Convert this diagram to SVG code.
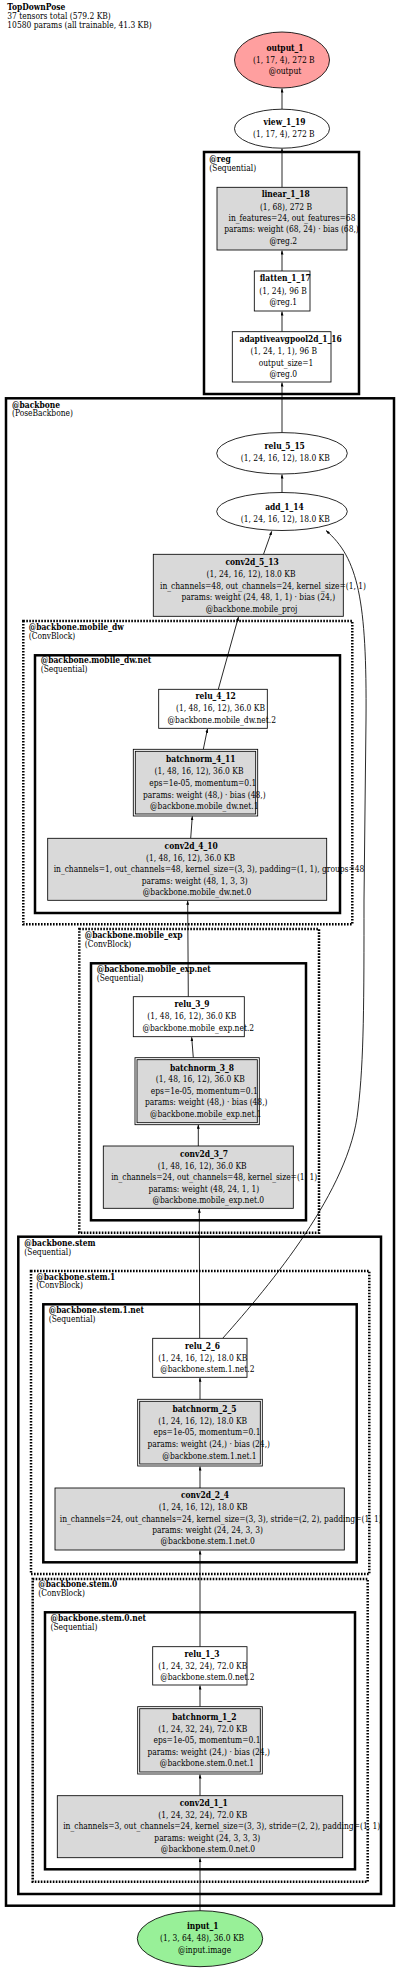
<svg xmlns="http://www.w3.org/2000/svg" width="400" height="1969" viewBox="0 0 400 1969">
<style>
text{font-family:'DejaVu Serif Condensed','DejaVu Serif',serif;font-stretch:condensed;font-size:8.4px;fill:#000;text-anchor:middle}
.b{font-weight:bold}
.l{text-anchor:start}
.clu{fill:none;stroke:#000;stroke-width:2.5}
.dot{stroke-dasharray:1.6 1.4}
.box{fill:#fff;stroke:#000;stroke-width:0.84}
.g{fill:#d9d9d9}
.e{fill:none;stroke:#000;stroke-width:0.84;marker-end:url(#ah)}
</style>
<defs>
<marker id="ah" markerUnits="userSpaceOnUse" markerWidth="4" markerHeight="3" viewBox="0 0 4 3" refX="4" refY="1.5" orient="auto"><path d="M0,0 L4,1.5 L0,3 z" fill="#000"/></marker>
</defs>
<rect width="400" height="1969" fill="#fff"/>
<g id="title">
<text class="b l" x="7.3" y="10.3">TopDownPose</text>
<text class="l" x="7.3" y="18.7">37 tensors total (579.2 KB)</text>
<text class="l" x="7.3" y="27.7">10580 params (all trainable, 41.3 KB)</text>
</g>
<g id="clusters">
<g id="cluster_reg"><rect class="clu" x="204" y="152" width="155" height="242"/><text class="b l" x="209.3" y="162.3">@reg</text><text class="l" x="209.3" y="170.5">(Sequential)</text></g>
<g id="cluster_backbone"><rect class="clu" x="6" y="398.3" width="388" height="1507.4"/><text class="b l" x="12" y="408">@backbone</text><text class="l" x="12" y="416.3">(PoseBackbone)</text></g>
<g id="cluster_mobile_dw"><rect class="clu dot" x="23.3" y="621" width="329" height="303.3"/><text class="b l" x="28.7" y="630.3">@backbone.mobile_dw</text><text class="l" x="28.7" y="639.3">(ConvBlock)</text></g>
<g id="cluster_mobile_dw_net"><rect class="clu" x="35" y="655.3" width="305" height="257.7"/><text class="b l" x="40.7" y="663">@backbone.mobile_dw.net</text><text class="l" x="40.7" y="672.3">(Sequential)</text></g>
<g id="cluster_mobile_exp"><rect class="clu dot" x="79.3" y="929" width="239.7" height="303.7"/><text class="b l" x="84.7" y="938.3">@backbone.mobile_exp</text><text class="l" x="84.7" y="946.7">(ConvBlock)</text></g>
<g id="cluster_mobile_exp_net"><rect class="clu" x="91" y="963.3" width="215" height="257"/><text class="b l" x="96.7" y="972.3">@backbone.mobile_exp.net</text><text class="l" x="96.7" y="980.7">(Sequential)</text></g>
<g id="cluster_stem"><rect class="clu" x="18.3" y="1236.7" width="362.7" height="657.3"/><text class="b l" x="24.3" y="1246.3">@backbone.stem</text><text class="l" x="24.3" y="1254.7">(Sequential)</text></g>
<g id="cluster_stem1"><rect class="clu dot" x="31" y="1271" width="338.3" height="303"/><text class="b l" x="36.3" y="1280">@backbone.stem.1</text><text class="l" x="36.3" y="1288">(ConvBlock)</text></g>
<g id="cluster_stem1_net"><rect class="clu" x="43.3" y="1304.3" width="313.4" height="258"/><text class="b l" x="48.7" y="1313.3">@backbone.stem.1.net</text><text class="l" x="48.7" y="1322">(Sequential)</text></g>
<g id="cluster_stem0"><rect class="clu dot" x="32.7" y="1579" width="335" height="302.7"/><text class="b l" x="38.3" y="1587.3">@backbone.stem.0</text><text class="l" x="38.3" y="1596.3">(ConvBlock)</text></g>
<g id="cluster_stem0_net"><rect class="clu" x="45" y="1612.3" width="310" height="257"/><text class="b l" x="50.5" y="1621.3">@backbone.stem.0.net</text><text class="l" x="50.5" y="1629.7">(Sequential)</text></g>
</g>
<g id="edges">
<path class="e" d="M282,109 L282,88.5"/>
<path class="e" d="M282,187.3 L282,148.5"/>
<path class="e" d="M282,271 L282,250.5"/>
<path class="e" d="M282,331.7 L282,311.5"/>
<path class="e" d="M282,432.6 L282,382.5"/>
<path class="e" d="M282,492.5 L282,474.5"/>
<path class="e" d="M263.5,554.3 L271.7,531.3"/>
<path class="e" d="M218.3,689.3 L238.5,616.8"/>
<path class="e" d="M203.3,749.3 L207.5,728.8"/>
<path class="e" d="M190.7,838.3 L192.3,816.3"/>
<path class="e" d="M188.3,996.7 L187.7,900.8"/>
<path class="e" d="M193.3,1057.7 L191.7,1037.2"/>
<path class="e" d="M198.3,1146 L198.3,1124.7"/>
<path class="e" d="M199.7,1338.3 L199.3,1208.8"/>
<path class="e" d="M222.7,1338.3 C270,1285 350,1190 358,1110 C364,1060 364,1000 364,900 L366,720 C367,600 358,558 326,530.5"/>
<path class="e" d="M200,1399.3 L200,1377.8"/>
<path class="e" d="M200,1488 L200,1466.5"/>
<path class="e" d="M200,1646.7 L200,1550.5"/>
<path class="e" d="M200,1706.7 L200,1685.5"/>
<path class="e" d="M200,1795.7 L200,1774.5"/>
<path class="e" d="M200,1910.7 L200,1858.2"/>
</g>
<g id="output_1"><ellipse cx="282" cy="60" rx="47.5" ry="28" fill="#ff9f9f" stroke="#000" stroke-width="0.84"/><text class="b" x="285" y="50.7">output_1</text><text x="283.8" y="63">(1, 17, 4), 272 B</text><text x="285" y="74.3">@output</text></g>
<g id="view_1_19"><ellipse class="box" cx="282" cy="128.7" rx="47.5" ry="19.5"/><text class="b" x="284.5" y="125">view_1_19</text><text x="283.8" y="137">(1, 17, 4), 272 B</text></g>
<g id="linear_1_18"><rect class="box g" x="217" y="187.3" width="130" height="62.7"/><text class="b" x="285.7" y="197.3">linear_1_18</text><text x="286" y="209.7">(1, 68), 272 B</text><text x="292" y="220.7">in_features=24, out_features=68</text><text x="291.5" y="232.3">params: weight (68, 24) · bias (68,)</text><text x="283.3" y="244">@reg.2</text></g>
<g id="flatten_1_17"><rect class="box" x="254.3" y="271" width="55.7" height="40"/><text class="b" x="285.3" y="281">flatten_1_17</text><text x="283" y="293.7">(1, 24), 96 B</text><text x="283.3" y="304.7">@reg.1</text></g>
<g id="adaptiveavgpool2d_1_16"><rect class="box" x="232.3" y="331.7" width="98.7" height="50.3"/><text class="b" x="290.7" y="342">adaptiveavgpool2d_1_16</text><text x="283.8" y="353.7">(1, 24, 1, 1), 96 B</text><text x="286" y="365.7">output_size=1</text><text x="283.3" y="377">@reg.0</text></g>
<g id="relu_5_15"><ellipse class="box" cx="282" cy="453.3" rx="65.3" ry="20.7"/><text class="b" x="284.7" y="449">relu_5_15</text><text x="285.3" y="461">(1, 24, 16, 12), 18.0 KB</text></g>
<g id="add_1_14"><ellipse class="box" cx="282" cy="511.5" rx="65.3" ry="19"/><text class="b" x="284.5" y="509.7">add_1_14</text><text x="285.3" y="522">(1, 24, 16, 12), 18.0 KB</text></g>
<g id="conv2d_5_13"><rect class="box g" x="153.3" y="554.3" width="190" height="62"/><text class="b" x="252" y="564.7">conv2d_5_13</text><text x="251" y="577.3">(1, 24, 16, 12), 18.0 KB</text><text x="263" y="588.7">in_channels=48, out_channels=24, kernel_size=(1, 1)</text><text x="258.3" y="600">params: weight (24, 48, 1, 1) · bias (24,)</text><text x="251.5" y="611.7">@backbone.mobile_proj</text></g>
<g id="relu_4_12"><rect class="box" x="158.7" y="689.3" width="108.6" height="39"/><text class="b" x="215.7" y="699">relu_4_12</text><text x="220.5" y="711.3">(1, 48, 16, 12), 36.0 KB</text><text x="221.8" y="723">@backbone.mobile_dw.net.2</text></g>
<g id="batchnorm_4_11"><rect class="box" x="133.3" y="749.3" width="124.4" height="66.7"/><rect class="box g" x="135.3" y="751.3" width="120.4" height="62.7"/><text class="b" x="200.7" y="762.3">batchnorm_4_11</text><text x="199" y="774.3">(1, 48, 16, 12), 36.0 KB</text><text x="202.8" y="785.7">eps=1e-05, momentum=0.1</text><text x="204.3" y="797.7">params: weight (48,) · bias (48,)</text><text x="204.3" y="809">@backbone.mobile_dw.net.1</text></g>
<g id="conv2d_4_10"><rect class="box g" x="47.7" y="838.3" width="279" height="62"/><text class="b" x="191.2" y="848.7">conv2d_4_10</text><text x="190.5" y="861">(1, 48, 16, 12), 36.0 KB</text><text x="209" y="872">in_channels=1, out_channels=48, kernel_size=(3, 3), padding=(1, 1), groups=48</text><text x="194.7" y="883.7">params: weight (48, 1, 3, 3)</text><text x="197" y="895">@backbone.mobile_dw.net.0</text></g>
<g id="relu_3_9"><rect class="box" x="133.3" y="996.7" width="111" height="40"/><text class="b" x="192" y="1007">relu_3_9</text><text x="191.8" y="1019">(1, 48, 16, 12), 36.0 KB</text><text x="198.3" y="1030.7">@backbone.mobile_exp.net.2</text></g>
<g id="batchnorm_3_8"><rect class="box" x="135" y="1057.7" width="124.3" height="67"/><rect class="box g" x="137" y="1059.7" width="120.3" height="63"/><text class="b" x="202" y="1070.7">batchnorm_3_8</text><text x="200.3" y="1082.3">(1, 48, 16, 12), 36.0 KB</text><text x="204.3" y="1094">eps=1e-05, momentum=0.1</text><text x="206.2" y="1105.3">params: weight (48,) · bias (48,)</text><text x="205.8" y="1117">@backbone.mobile_exp.net.1</text></g>
<g id="conv2d_3_7"><rect class="box g" x="103.3" y="1146" width="190" height="62.3"/><text class="b" x="204" y="1157">conv2d_3_7</text><text x="202.2" y="1168.7">(1, 48, 16, 12), 36.0 KB</text><text x="214.2" y="1180.3">in_channels=24, out_channels=48, kernel_size=(1, 1)</text><text x="203.8" y="1191.7">params: weight (48, 24, 1, 1)</text><text x="208.3" y="1202.7">@backbone.mobile_exp.net.0</text></g>
<g id="relu_2_6"><rect class="box" x="152.7" y="1338.3" width="94.3" height="39"/><text class="b" x="202.5" y="1348.7">relu_2_6</text><text x="202.8" y="1360.7">(1, 24, 16, 12), 18.0 KB</text><text x="207.3" y="1372.3">@backbone.stem.1.net.2</text></g>
<g id="batchnorm_2_5"><rect class="box" x="137.7" y="1399.3" width="124.6" height="66.7"/><rect class="box g" x="139.7" y="1401.3" width="120.6" height="62.7"/><text class="b" x="204.5" y="1412">batchnorm_2_5</text><text x="202.7" y="1423.7">(1, 24, 16, 12), 18.0 KB</text><text x="207" y="1435.3">eps=1e-05, momentum=0.1</text><text x="208.7" y="1447">params: weight (24,) · bias (24,)</text><text x="209.5" y="1459">@backbone.stem.1.net.1</text></g>
<g id="conv2d_2_4"><rect class="box g" x="55" y="1488" width="289.3" height="62"/><text class="b" x="205" y="1498">conv2d_2_4</text><text x="203.2" y="1510.3">(1, 24, 16, 12), 18.0 KB</text><text x="220.8" y="1521.7">in_channels=24, out_channels=24, kernel_size=(3, 3), stride=(2, 2), padding=(1, 1)</text><text x="207.5" y="1533">params: weight (24, 24, 3, 3)</text><text x="207.7" y="1544.3">@backbone.stem.1.net.0</text></g>
<g id="relu_1_3"><rect class="box" x="152.7" y="1646.7" width="94.3" height="38.3"/><text class="b" x="202" y="1657">relu_1_3</text><text x="202.8" y="1668.7">(1, 24, 32, 24), 72.0 KB</text><text x="207.3" y="1680.3">@backbone.stem.0.net.2</text></g>
<g id="batchnorm_1_2"><rect class="box" x="137.7" y="1706.7" width="124.6" height="67.3"/><rect class="box g" x="139.7" y="1708.7" width="120.6" height="63.3"/><text class="b" x="204.3" y="1719.7">batchnorm_1_2</text><text x="202.8" y="1732">(1, 24, 32, 24), 72.0 KB</text><text x="207" y="1743">eps=1e-05, momentum=0.1</text><text x="208.7" y="1754.7">params: weight (24,) · bias (24,)</text><text x="207" y="1766.3">@backbone.stem.0.net.1</text></g>
<g id="conv2d_1_1"><rect class="box g" x="57.3" y="1795.7" width="285.4" height="62"/><text class="b" x="203.7" y="1806.3">conv2d_1_1</text><text x="202.8" y="1817.8">(1, 24, 32, 24), 72.0 KB</text><text x="221.7" y="1829.3">in_channels=3, out_channels=24, kernel_size=(3, 3), stride=(2, 2), padding=(1, 1)</text><text x="207.3" y="1840.8">params: weight (24, 3, 3, 3)</text><text x="208" y="1852.3">@backbone.stem.0.net.0</text></g>
<g id="input_1"><ellipse cx="200" cy="1938.7" rx="62.7" ry="28" fill="#98f098" stroke="#000" stroke-width="0.84"/><text class="b" x="202.8" y="1929">input_1</text><text x="202" y="1941.3">(1, 3, 64, 48), 36.0 KB</text><text x="204.5" y="1953">@input.image</text></g>
</svg>
